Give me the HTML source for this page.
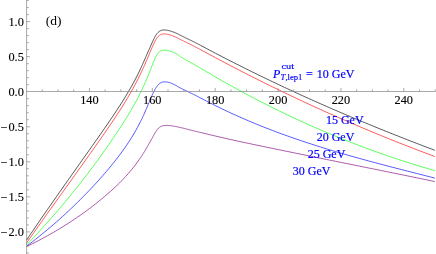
<!DOCTYPE html>
<html><head><meta charset="utf-8"><title>plot</title>
<style>
html,body{margin:0;padding:0;background:#fff;}
body{width:436px;height:254px;overflow:hidden;}
svg{display:block;}
text{font-family:"Liberation Serif",serif;}
.tk{font-size:12.3px;fill:#000;stroke:#000;stroke-width:0.12px;}
.lb{font-size:12px;fill:#0000ff;stroke:#0000ff;stroke-width:0.2px;}
.sm{font-size:8.6px;fill:#0000ff;stroke:#0000ff;stroke-width:0.15px;}
</style></head><body>
<svg width="436" height="254" viewBox="0 0 436 254">
<rect width="436" height="254" fill="#fff"/>

<g fill="none" stroke-width="0.66" stroke-linejoin="round">
<path stroke="#000000" d="M26.5,240.13 L28.0,237.94 L29.5,235.74 L31.0,233.52 L32.5,231.30 L34.0,229.08 L35.5,226.87 L37.0,224.68 L38.5,222.49 L40.0,220.30 L41.5,218.12 L43.0,215.95 L44.5,213.77 L46.0,211.60 L47.5,209.45 L49.0,207.30 L50.5,205.16 L52.0,203.01 L53.5,200.87 L55.0,198.72 L56.5,196.58 L58.0,194.44 L59.5,192.30 L61.0,190.17 L62.5,188.03 L64.0,185.90 L65.5,183.77 L67.0,181.64 L68.5,179.51 L70.0,177.38 L71.5,175.26 L73.0,173.13 L74.5,171.01 L76.0,168.88 L77.5,166.76 L79.0,164.64 L80.5,162.52 L82.0,160.39 L83.5,158.27 L85.0,156.15 L86.5,154.03 L88.0,151.91 L89.5,149.78 L91.0,147.66 L92.5,145.53 L94.0,143.40 L95.5,141.27 L97.0,139.13 L98.5,137.00 L100.0,134.85 L101.5,132.70 L103.0,130.55 L104.5,128.39 L106.0,126.22 L107.5,124.04 L109.0,121.86 L110.5,119.67 L112.0,117.45 L113.5,115.22 L115.0,112.97 L116.5,110.70 L118.0,108.41 L119.5,106.10 L121.0,103.76 L122.5,101.39 L124.0,98.98 L125.5,96.54 L127.0,94.05 L128.5,91.52 L130.0,88.94 L131.5,86.30 L133.0,83.60 L134.5,80.83 L136.0,77.98 L137.5,75.05 L139.0,72.02 L140.0,69.94 L140.5,68.87 L141.0,67.80 L141.5,66.71 L142.0,65.60 L142.5,64.49 L143.0,63.36 L143.5,62.22 L144.0,61.08 L144.5,59.93 L145.0,58.78 L145.5,57.62 L146.0,56.47 L146.5,55.32 L147.0,54.19 L147.5,53.06 L148.0,51.93 L148.5,50.81 L149.0,49.69 L149.5,48.56 L150.0,47.43 L150.5,46.29 L151.0,45.15 L151.5,44.02 L152.0,42.89 L152.5,41.78 L153.0,40.69 L153.5,39.64 L154.0,38.62 L154.5,37.64 L155.0,36.72 L155.5,35.85 L156.0,35.04 L156.5,34.30 L157.0,33.63 L157.5,33.02 L158.0,32.48 L158.5,32.01 L159.0,31.60 L159.5,31.24 L160.0,30.94 L160.5,30.69 L161.0,30.48 L161.5,30.31 L162.0,30.18 L162.5,30.09 L163.0,30.02 L163.5,29.97 L164.0,29.95 L164.5,29.96 L165.0,29.98 L165.5,30.02 L166.0,30.07 L166.5,30.14 L167.0,30.22 L167.5,30.32 L168.0,30.42 L168.5,30.54 L169.0,30.66 L169.5,30.79 L170.0,30.92 L170.5,31.07 L171.0,31.22 L171.5,31.37 L172.0,31.53 L172.5,31.70 L173.0,31.88 L173.5,32.06 L174.0,32.25 L174.5,32.45 L175.0,32.65 L175.5,32.86 L176.0,33.07 L176.5,33.29 L177.0,33.52 L177.5,33.76 L178.0,34.01 L178.5,34.27 L179.0,34.54 L179.5,34.82 L180.0,35.08 L180.5,35.34 L181.0,35.59 L181.5,35.84 L182.0,36.08 L182.5,36.32 L183.0,36.56 L183.5,36.81 L184.0,37.05 L184.5,37.29 L185.0,37.54 L185.5,37.79 L186.0,38.03 L186.5,38.28 L187.0,38.53 L187.5,38.77 L188.0,39.02 L188.5,39.26 L189.0,39.51 L189.5,39.75 L190.0,39.98 L190.5,40.22 L191.0,40.46 L191.5,40.70 L192.0,40.95 L192.5,41.20 L193.0,41.45 L193.5,41.71 L194.0,41.96 L194.5,42.22 L195.0,42.47 L195.5,42.73 L196.0,42.99 L196.5,43.24 L197.0,43.50 L197.5,43.76 L198.0,44.02 L198.5,44.27 L199.0,44.53 L199.5,44.79 L200.5,45.32 L202.0,46.12 L203.5,46.92 L205.0,47.72 L206.5,48.52 L208.0,49.32 L209.5,50.11 L211.0,50.90 L212.5,51.69 L214.0,52.48 L215.5,53.27 L217.0,54.05 L218.5,54.83 L220.0,55.61 L221.5,56.39 L223.0,57.17 L224.5,57.94 L226.0,58.72 L227.5,59.49 L229.0,60.25 L230.5,61.02 L232.0,61.78 L233.5,62.53 L235.0,63.29 L236.5,64.05 L238.0,64.80 L239.5,65.56 L241.0,66.31 L242.5,67.06 L244.0,67.81 L245.5,68.56 L247.0,69.31 L248.5,70.05 L250.0,70.80 L251.5,71.54 L253.0,72.27 L254.5,73.01 L256.0,73.75 L257.5,74.48 L259.0,75.21 L260.5,75.94 L262.0,76.67 L263.5,77.40 L265.0,78.12 L266.5,78.84 L268.0,79.56 L269.5,80.28 L271.0,81.00 L272.5,81.72 L274.0,82.43 L275.5,83.14 L277.0,83.85 L278.5,84.56 L280.0,85.27 L281.5,85.98 L283.0,86.68 L284.5,87.38 L286.0,88.08 L287.5,88.78 L289.0,89.48 L290.5,90.17 L292.0,90.87 L293.5,91.56 L295.0,92.25 L296.5,92.94 L298.0,93.63 L299.5,94.31 L301.0,95.00 L302.5,95.68 L304.0,96.36 L305.5,97.04 L307.0,97.72 L308.5,98.39 L310.0,99.07 L311.5,99.74 L313.0,100.41 L314.5,101.08 L316.0,101.75 L317.5,102.42 L319.0,103.08 L320.5,103.74 L322.0,104.41 L323.5,105.07 L325.0,105.73 L326.5,106.38 L328.0,107.04 L329.5,107.69 L331.0,108.35 L332.5,109.00 L334.0,109.65 L335.5,110.30 L337.0,110.94 L338.5,111.59 L340.0,112.23 L341.5,112.88 L343.0,113.52 L344.5,114.16 L346.0,114.80 L347.5,115.43 L349.0,116.07 L350.5,116.70 L352.0,117.34 L353.5,117.97 L355.0,118.60 L356.5,119.23 L358.0,119.85 L359.5,120.48 L361.0,121.10 L362.5,121.73 L364.0,122.35 L365.5,122.97 L367.0,123.59 L368.5,124.21 L370.0,124.82 L371.5,125.44 L373.0,126.05 L374.5,126.66 L376.0,127.28 L377.5,127.89 L379.0,128.49 L380.5,129.10 L382.0,129.71 L383.5,130.31 L385.0,130.92 L386.5,131.52 L388.0,132.12 L389.5,132.72 L391.0,133.32 L392.5,133.92 L394.0,134.51 L395.5,135.11 L397.0,135.70 L398.5,136.29 L400.0,136.88 L401.5,137.47 L403.0,138.06 L404.5,138.65 L406.0,139.24 L407.5,139.82 L409.0,140.41 L410.5,140.99 L412.0,141.57 L413.5,142.15 L415.0,142.73 L416.5,143.31 L418.0,143.89 L419.5,144.46 L421.0,145.04 L422.5,145.61 L424.0,146.18 L425.5,146.76 L427.0,147.33 L428.5,147.90 L430.0,148.47 L431.5,149.03 L433.0,149.60 L434.5,150.16 L434.9,150.32"/>
<path stroke="#ff0000" d="M26.5,243.11 L28.0,241.01 L29.5,238.88 L31.0,236.74 L32.5,234.58 L34.0,232.43 L35.5,230.27 L37.0,228.13 L38.5,226.01 L40.0,223.89 L41.5,221.77 L43.0,219.65 L44.5,217.54 L46.0,215.42 L47.5,213.31 L49.0,211.21 L50.5,209.11 L52.0,207.02 L53.5,204.93 L55.0,202.84 L56.5,200.75 L58.0,198.66 L59.5,196.56 L61.0,194.47 L62.5,192.38 L64.0,190.29 L65.5,188.19 L67.0,186.10 L68.5,184.00 L70.0,181.91 L71.5,179.81 L73.0,177.72 L74.5,175.62 L76.0,173.52 L77.5,171.42 L79.0,169.32 L80.5,167.22 L82.0,165.11 L83.5,163.01 L85.0,160.90 L86.5,158.79 L88.0,156.68 L89.5,154.57 L91.0,152.45 L92.5,150.33 L94.0,148.21 L95.5,146.08 L97.0,143.95 L98.5,141.82 L100.0,139.67 L101.5,137.53 L103.0,135.37 L104.5,133.21 L106.0,131.04 L107.5,128.86 L109.0,126.66 L110.5,124.45 L112.0,122.23 L113.5,120.00 L115.0,117.76 L116.5,115.49 L118.0,113.20 L119.5,110.89 L121.0,108.55 L122.5,106.19 L124.0,103.79 L125.5,101.35 L127.0,98.87 L128.5,96.35 L130.0,93.78 L131.5,91.16 L133.0,88.47 L134.5,85.71 L136.0,82.89 L137.5,79.98 L139.0,76.99 L140.0,74.95 L140.5,73.91 L141.0,72.87 L141.5,71.81 L142.0,70.74 L142.5,69.67 L143.0,68.58 L143.5,67.49 L144.0,66.38 L144.5,65.26 L145.0,64.13 L145.5,62.99 L146.0,61.84 L146.5,60.69 L147.0,59.52 L147.5,58.34 L148.0,57.15 L148.5,55.96 L149.0,54.77 L149.5,53.56 L150.0,52.36 L150.5,51.16 L151.0,49.96 L151.5,48.77 L152.0,47.60 L152.5,46.45 L153.0,45.32 L153.5,44.23 L154.0,43.17 L154.5,42.16 L155.0,41.20 L155.5,40.29 L156.0,39.45 L156.5,38.67 L157.0,37.95 L157.5,37.31 L158.0,36.73 L158.5,36.22 L159.0,35.77 L159.5,35.38 L160.0,35.05 L160.5,34.77 L161.0,34.54 L161.5,34.35 L162.0,34.20 L162.5,34.08 L163.0,34.00 L163.5,33.95 L164.0,33.93 L164.5,33.93 L165.0,33.95 L165.5,33.99 L166.0,34.05 L166.5,34.13 L167.0,34.22 L167.5,34.32 L168.0,34.44 L168.5,34.56 L169.0,34.70 L169.5,34.84 L170.0,34.99 L170.5,35.14 L171.0,35.30 L171.5,35.47 L172.0,35.64 L172.5,35.82 L173.0,36.00 L173.5,36.19 L174.0,36.39 L174.5,36.59 L175.0,36.80 L175.5,37.01 L176.0,37.23 L176.5,37.45 L177.0,37.68 L177.5,37.92 L178.0,38.18 L178.5,38.44 L179.0,38.71 L179.5,38.98 L180.0,39.25 L180.5,39.51 L181.0,39.76 L181.5,40.01 L182.0,40.26 L182.5,40.51 L183.0,40.75 L183.5,41.00 L184.0,41.25 L184.5,41.50 L185.0,41.75 L185.5,42.00 L186.0,42.25 L186.5,42.50 L187.0,42.75 L187.5,43.00 L188.0,43.25 L188.5,43.50 L189.0,43.74 L189.5,43.98 L190.0,44.21 L190.5,44.44 L191.0,44.68 L191.5,44.92 L192.0,45.17 L192.5,45.43 L193.0,45.68 L193.5,45.94 L194.0,46.20 L194.5,46.46 L195.0,46.72 L195.5,46.99 L196.0,47.25 L196.5,47.51 L197.0,47.77 L197.5,48.03 L198.0,48.30 L198.5,48.56 L199.0,48.82 L199.5,49.09 L200.5,49.62 L202.0,50.44 L203.5,51.26 L205.0,52.07 L206.5,52.88 L208.0,53.69 L209.5,54.50 L211.0,55.31 L212.5,56.11 L214.0,56.92 L215.5,57.72 L217.0,58.52 L218.5,59.31 L220.0,60.11 L221.5,60.90 L223.0,61.70 L224.5,62.49 L226.0,63.28 L227.5,64.06 L229.0,64.85 L230.5,65.63 L232.0,66.41 L233.5,67.21 L235.0,67.99 L236.5,68.77 L238.0,69.54 L239.5,70.32 L241.0,71.09 L242.5,71.86 L244.0,72.62 L245.5,73.39 L247.0,74.15 L248.5,74.92 L250.0,75.68 L251.5,76.44 L253.0,77.19 L254.5,77.95 L256.0,78.70 L257.5,79.45 L259.0,80.20 L260.5,80.95 L262.0,81.70 L263.5,82.44 L265.0,83.19 L266.5,83.93 L268.0,84.67 L269.5,85.41 L271.0,86.14 L272.5,86.88 L274.0,87.61 L275.5,88.34 L277.0,89.07 L278.5,89.80 L280.0,90.53 L281.5,91.25 L283.0,91.97 L284.5,92.69 L286.0,93.41 L287.5,94.13 L289.0,94.85 L290.5,95.56 L292.0,96.27 L293.5,96.98 L295.0,97.69 L296.5,98.40 L298.0,99.11 L299.5,99.81 L301.0,100.51 L302.5,101.21 L304.0,101.91 L305.5,102.61 L307.0,103.30 L308.5,104.00 L310.0,104.69 L311.5,105.38 L313.0,106.07 L314.5,106.76 L316.0,107.44 L317.5,108.13 L319.0,108.81 L320.5,109.49 L322.0,110.17 L323.5,110.84 L325.0,111.52 L326.5,112.19 L328.0,112.86 L329.5,113.54 L331.0,114.20 L332.5,114.87 L334.0,115.54 L335.5,116.20 L337.0,116.86 L338.5,117.52 L340.0,118.18 L341.5,118.84 L343.0,119.49 L344.5,120.15 L346.0,120.80 L347.5,121.45 L349.0,122.10 L350.5,122.75 L352.0,123.39 L353.5,124.04 L355.0,124.68 L356.5,125.32 L358.0,125.96 L359.5,126.59 L361.0,127.23 L362.5,127.86 L364.0,128.50 L365.5,129.13 L367.0,129.76 L368.5,130.38 L370.0,131.01 L371.5,131.63 L373.0,132.26 L374.5,132.88 L376.0,133.50 L377.5,134.12 L379.0,134.73 L380.5,135.35 L382.0,135.96 L383.5,136.57 L385.0,137.18 L386.5,137.79 L388.0,138.40 L389.5,139.00 L391.0,139.60 L392.5,140.21 L394.0,140.81 L395.5,141.40 L397.0,142.00 L398.5,142.60 L400.0,143.19 L401.5,143.78 L403.0,144.37 L404.5,144.96 L406.0,145.55 L407.5,146.13 L409.0,146.72 L410.5,147.30 L412.0,147.88 L413.5,148.46 L415.0,149.04 L416.5,149.62 L418.0,150.19 L419.5,150.76 L421.0,151.34 L422.5,151.91 L424.0,152.47 L425.5,153.04 L427.0,153.61 L428.5,154.17 L430.0,154.73 L431.5,155.29 L433.0,155.85 L434.5,156.41 L434.9,156.56"/>
<path stroke="#00ff00" d="M26.5,244.96 L28.0,243.46 L29.5,241.92 L31.0,240.34 L32.5,238.74 L34.0,237.12 L35.5,235.48 L37.0,233.84 L38.5,232.20 L40.0,230.56 L41.5,228.93 L43.0,227.28 L44.5,225.63 L46.0,223.96 L47.5,222.28 L49.0,220.60 L50.5,218.90 L52.0,217.20 L53.5,215.49 L55.0,213.77 L56.5,212.05 L58.0,210.32 L59.5,208.57 L61.0,206.82 L62.5,205.05 L64.0,203.28 L65.5,201.49 L67.0,199.68 L68.5,197.87 L70.0,196.04 L71.5,194.20 L73.0,192.35 L74.5,190.49 L76.0,188.61 L77.5,186.73 L79.0,184.83 L80.5,182.92 L82.0,181.00 L83.5,179.06 L85.0,177.11 L86.5,175.15 L88.0,173.18 L89.5,171.20 L91.0,169.21 L92.5,167.20 L94.0,165.18 L95.5,163.15 L97.0,161.10 L98.5,159.05 L100.0,156.98 L101.5,154.89 L103.0,152.80 L104.5,150.69 L106.0,148.57 L107.5,146.43 L109.0,144.27 L110.5,142.10 L112.0,139.91 L113.5,137.71 L115.0,135.50 L116.5,133.26 L118.0,131.00 L119.5,128.73 L121.0,126.42 L122.5,124.10 L124.0,121.74 L125.5,119.35 L127.0,116.93 L128.5,114.47 L130.0,111.96 L131.5,109.41 L133.0,106.80 L134.5,104.13 L136.0,101.38 L137.5,98.56 L139.0,95.65 L140.0,93.66 L140.5,92.64 L141.0,91.61 L141.5,90.57 L142.0,89.52 L142.5,88.45 L143.0,87.38 L143.5,86.29 L144.0,85.18 L144.5,84.07 L145.0,82.95 L145.5,81.81 L146.0,80.67 L146.5,79.51 L147.0,78.33 L147.5,77.14 L148.0,75.93 L148.5,74.71 L149.0,73.46 L149.5,72.20 L150.0,70.93 L150.5,69.64 L151.0,68.34 L151.5,67.04 L152.0,65.74 L152.5,64.44 L153.0,63.16 L153.5,61.90 L154.0,60.68 L154.5,59.50 L155.0,58.37 L155.5,57.30 L156.0,56.30 L156.5,55.38 L157.0,54.55 L157.5,53.80 L158.0,53.13 L158.5,52.55 L159.0,52.05 L159.5,51.63 L160.0,51.28 L160.5,50.99 L161.0,50.76 L161.5,50.57 L162.0,50.43 L162.5,50.32 L163.0,50.25 L163.5,50.20 L164.0,50.16 L164.5,50.15 L165.0,50.16 L165.5,50.18 L166.0,50.21 L166.5,50.26 L167.0,50.33 L167.5,50.41 L168.0,50.50 L168.5,50.61 L169.0,50.73 L169.5,50.86 L170.0,51.00 L170.5,51.16 L171.0,51.32 L171.5,51.50 L172.0,51.69 L172.5,51.89 L173.0,52.10 L173.5,52.31 L174.0,52.54 L174.5,52.78 L175.0,53.02 L175.5,53.27 L176.0,53.54 L176.5,53.81 L177.0,54.11 L177.5,54.44 L178.0,54.80 L178.5,55.19 L179.0,55.60 L179.5,56.01 L180.0,56.39 L180.5,56.74 L181.0,57.07 L181.5,57.38 L182.0,57.68 L182.5,57.97 L183.0,58.26 L183.5,58.55 L184.0,58.84 L184.5,59.13 L185.0,59.42 L185.5,59.70 L186.0,59.99 L186.5,60.28 L187.0,60.57 L187.5,60.86 L188.0,61.14 L188.5,61.41 L189.0,61.67 L189.5,61.91 L190.0,62.14 L190.5,62.37 L191.0,62.61 L191.5,62.86 L192.0,63.13 L192.5,63.42 L193.0,63.70 L193.5,64.00 L194.0,64.29 L194.5,64.59 L195.0,64.88 L195.5,65.18 L196.0,65.47 L196.5,65.77 L197.0,66.07 L197.5,66.36 L198.0,66.66 L198.5,66.95 L199.0,67.25 L199.5,67.55 L200.5,68.14 L202.0,69.04 L203.5,69.94 L205.0,70.83 L206.5,71.72 L208.0,72.61 L209.5,73.49 L211.0,74.37 L212.5,75.25 L214.0,76.12 L215.5,76.99 L217.0,77.86 L218.5,78.72 L220.0,79.58 L221.5,80.44 L223.0,81.29 L224.5,82.14 L226.0,82.99 L227.5,83.83 L229.0,84.67 L230.5,85.51 L232.0,86.35 L233.5,87.19 L235.0,88.02 L236.5,88.84 L238.0,89.66 L239.5,90.48 L241.0,91.29 L242.5,92.10 L244.0,92.91 L245.5,93.72 L247.0,94.52 L248.5,95.31 L250.0,96.11 L251.5,96.90 L253.0,97.69 L254.5,98.47 L256.0,99.25 L257.5,100.03 L259.0,100.81 L260.5,101.58 L262.0,102.35 L263.5,103.11 L265.0,103.88 L266.5,104.63 L268.0,105.39 L269.5,106.14 L271.0,106.89 L272.5,107.64 L274.0,108.38 L275.5,109.12 L277.0,109.86 L278.5,110.59 L280.0,111.32 L281.5,112.05 L283.0,112.78 L284.5,113.50 L286.0,114.22 L287.5,114.93 L289.0,115.64 L290.5,116.35 L292.0,117.06 L293.5,117.76 L295.0,118.46 L296.5,119.15 L298.0,119.85 L299.5,120.54 L301.0,121.22 L302.5,121.91 L304.0,122.59 L305.5,123.27 L307.0,123.94 L308.5,124.61 L310.0,125.28 L311.5,125.95 L313.0,126.61 L314.5,127.27 L316.0,127.93 L317.5,128.58 L319.0,129.23 L320.5,129.88 L322.0,130.52 L323.5,131.16 L325.0,131.80 L326.5,132.44 L328.0,133.07 L329.5,133.70 L331.0,134.33 L332.5,134.95 L334.0,135.57 L335.5,136.19 L337.0,136.80 L338.5,137.41 L340.0,138.02 L341.5,138.63 L343.0,139.23 L344.5,139.83 L346.0,140.43 L347.5,141.02 L349.0,141.61 L350.5,142.20 L352.0,142.78 L353.5,143.36 L355.0,143.94 L356.5,144.52 L358.0,145.09 L359.5,145.66 L361.0,146.23 L362.5,146.80 L364.0,147.36 L365.5,147.92 L367.0,148.47 L368.5,149.02 L370.0,149.57 L371.5,150.12 L373.0,150.67 L374.5,151.21 L376.0,151.75 L377.5,152.28 L379.0,152.82 L380.5,153.35 L382.0,153.87 L383.5,154.40 L385.0,154.92 L386.5,155.44 L388.0,155.95 L389.5,156.47 L391.0,156.98 L392.5,157.48 L394.0,157.99 L395.5,158.49 L397.0,158.99 L398.5,159.49 L400.0,159.98 L401.5,160.47 L403.0,160.96 L404.5,161.44 L406.0,161.93 L407.5,162.41 L409.0,162.88 L410.5,163.36 L412.0,163.83 L413.5,164.30 L415.0,164.76 L416.5,165.23 L418.0,165.69 L419.5,166.15 L421.0,166.60 L422.5,167.05 L424.0,167.50 L425.5,167.95 L427.0,168.39 L428.5,168.84 L430.0,169.27 L431.5,169.71 L433.0,170.14 L434.5,170.57 L434.9,170.69"/>
<path stroke="#0000ff" d="M26.5,246.14 L28.0,245.07 L29.5,243.97 L31.0,242.84 L32.5,241.70 L34.0,240.53 L35.5,239.35 L37.0,238.15 L38.5,236.94 L40.0,235.72 L41.5,234.50 L43.0,233.27 L44.5,232.05 L46.0,230.82 L47.5,229.57 L49.0,228.32 L50.5,227.06 L52.0,225.78 L53.5,224.50 L55.0,223.20 L56.5,221.89 L58.0,220.57 L59.5,219.24 L61.0,217.89 L62.5,216.54 L64.0,215.17 L65.5,213.79 L67.0,212.39 L68.5,210.99 L70.0,209.57 L71.5,208.14 L73.0,206.70 L74.5,205.25 L76.0,203.80 L77.5,202.33 L79.0,200.85 L80.5,199.36 L82.0,197.86 L83.5,196.34 L85.0,194.82 L86.5,193.27 L88.0,191.72 L89.5,190.15 L91.0,188.57 L92.5,186.97 L94.0,185.36 L95.5,183.73 L97.0,182.09 L98.5,180.43 L100.0,178.76 L101.5,177.07 L103.0,175.36 L104.5,173.64 L106.0,171.89 L107.5,170.13 L109.0,168.35 L110.5,166.54 L112.0,164.71 L113.5,162.86 L115.0,160.97 L116.5,159.06 L118.0,157.12 L119.5,155.15 L121.0,153.13 L122.5,151.08 L124.0,148.98 L125.5,146.84 L127.0,144.65 L128.5,142.40 L130.0,140.08 L131.5,137.70 L133.0,135.25 L134.5,132.71 L136.0,130.08 L137.5,127.36 L139.0,124.53 L140.0,122.59 L140.5,121.60 L141.0,120.59 L141.5,119.57 L142.0,118.54 L142.5,117.49 L143.0,116.42 L143.5,115.35 L144.0,114.25 L144.5,113.13 L145.0,112.00 L145.5,110.84 L146.0,109.67 L146.5,108.48 L147.0,107.29 L147.5,106.09 L148.0,104.90 L148.5,103.71 L149.0,102.52 L149.5,101.34 L150.0,100.16 L150.5,98.99 L151.0,97.83 L151.5,96.68 L152.0,95.55 L152.5,94.44 L153.0,93.35 L153.5,92.30 L154.0,91.28 L154.5,90.31 L155.0,89.38 L155.5,88.50 L156.0,87.67 L156.5,86.91 L157.0,86.20 L157.5,85.55 L158.0,84.97 L158.5,84.44 L159.0,83.97 L159.5,83.56 L160.0,83.20 L160.5,82.89 L161.0,82.63 L161.5,82.42 L162.0,82.24 L162.5,82.10 L163.0,82.00 L163.5,81.92 L164.0,81.87 L164.5,81.85 L165.0,81.84 L165.5,81.85 L166.0,81.88 L166.5,81.93 L167.0,82.00 L167.5,82.08 L168.0,82.18 L168.5,82.30 L169.0,82.44 L169.5,82.59 L170.0,82.75 L170.5,82.93 L171.0,83.12 L171.5,83.32 L172.0,83.53 L172.5,83.74 L173.0,83.97 L173.5,84.20 L174.0,84.44 L174.5,84.69 L175.0,84.95 L175.5,85.22 L176.0,85.50 L176.5,85.79 L177.0,86.09 L177.5,86.39 L178.0,86.69 L178.5,86.98 L179.0,87.26 L179.5,87.54 L180.0,87.80 L180.5,88.06 L181.0,88.32 L181.5,88.57 L182.0,88.82 L182.5,89.06 L183.0,89.30 L183.5,89.54 L184.0,89.77 L184.5,90.01 L185.0,90.25 L185.5,90.49 L186.0,90.74 L186.5,90.99 L187.0,91.24 L187.5,91.49 L188.0,91.74 L188.5,91.99 L189.0,92.24 L189.5,92.49 L190.0,92.73 L190.5,92.97 L191.0,93.21 L191.5,93.44 L192.0,93.67 L192.5,93.90 L193.0,94.14 L193.5,94.38 L194.0,94.63 L194.5,94.88 L195.0,95.13 L195.5,95.39 L196.0,95.64 L196.5,95.90 L197.0,96.16 L197.5,96.42 L198.0,96.67 L198.5,96.93 L199.0,97.19 L199.5,97.45 L200.5,97.97 L202.0,98.77 L203.5,99.56 L205.0,100.34 L206.5,101.12 L208.0,101.89 L209.5,102.66 L211.0,103.42 L212.5,104.18 L214.0,104.93 L215.5,105.67 L217.0,106.41 L218.5,107.15 L220.0,107.88 L221.5,108.60 L223.0,109.32 L224.5,110.04 L226.0,110.75 L227.5,111.45 L229.0,112.15 L230.5,112.85 L232.0,113.54 L233.5,114.22 L235.0,114.90 L236.5,115.57 L238.0,116.24 L239.5,116.91 L241.0,117.57 L242.5,118.23 L244.0,118.88 L245.5,119.53 L247.0,120.17 L248.5,120.81 L250.0,121.45 L251.5,122.08 L253.0,122.70 L254.5,123.32 L256.0,123.94 L257.5,124.55 L259.0,125.16 L260.5,125.77 L262.0,126.37 L263.5,126.97 L265.0,127.56 L266.5,128.15 L268.0,128.73 L269.5,129.31 L271.0,129.89 L272.5,130.46 L274.0,131.03 L275.5,131.60 L277.0,132.16 L278.5,132.72 L280.0,133.27 L281.5,133.82 L283.0,134.37 L284.5,134.91 L286.0,135.45 L287.5,135.99 L289.0,136.52 L290.5,137.05 L292.0,137.58 L293.5,138.10 L295.0,138.62 L296.5,139.14 L298.0,139.65 L299.5,140.16 L301.0,140.67 L302.5,141.17 L304.0,141.68 L305.5,142.17 L307.0,142.67 L308.5,143.16 L310.0,143.65 L311.5,144.14 L313.0,144.62 L314.5,145.10 L316.0,145.58 L317.5,146.06 L319.0,146.53 L320.5,147.00 L322.0,147.47 L323.5,147.93 L325.0,148.39 L326.5,148.86 L328.0,149.31 L329.5,149.77 L331.0,150.22 L332.5,150.67 L334.0,151.12 L335.5,151.57 L337.0,152.01 L338.5,152.45 L340.0,152.89 L341.5,153.33 L343.0,153.77 L344.5,154.20 L346.0,154.63 L347.5,155.06 L349.0,155.49 L350.5,155.92 L352.0,156.34 L353.5,156.76 L355.0,157.18 L356.5,157.60 L358.0,158.02 L359.5,158.44 L361.0,158.85 L362.5,159.26 L364.0,159.67 L365.5,160.08 L367.0,160.49 L368.5,160.90 L370.0,161.31 L371.5,161.71 L373.0,162.11 L374.5,162.51 L376.0,162.92 L377.5,163.31 L379.0,163.71 L380.5,164.11 L382.0,164.51 L383.5,164.90 L385.0,165.30 L386.5,165.69 L388.0,166.08 L389.5,166.47 L391.0,166.86 L392.5,167.25 L394.0,167.64 L395.5,168.03 L397.0,168.42 L398.5,168.81 L400.0,169.19 L401.5,169.58 L403.0,169.97 L404.5,170.35 L406.0,170.74 L407.5,171.12 L409.0,171.50 L410.5,171.89 L412.0,172.27 L413.5,172.65 L415.0,173.04 L416.5,173.42 L418.0,173.80 L419.5,174.18 L421.0,174.57 L422.5,174.95 L424.0,175.33 L425.5,175.71 L427.0,176.10 L428.5,176.48 L430.0,176.86 L431.5,177.25 L433.0,177.63 L434.5,178.01 L434.9,178.12"/>
<path stroke="#800080" d="M26.5,246.54 L28.0,245.84 L29.5,245.12 L31.0,244.39 L32.5,243.65 L34.0,242.90 L35.5,242.14 L37.0,241.36 L38.5,240.58 L40.0,239.79 L41.5,238.99 L43.0,238.18 L44.5,237.36 L46.0,236.53 L47.5,235.70 L49.0,234.85 L50.5,234.01 L52.0,233.15 L53.5,232.29 L55.0,231.41 L56.5,230.53 L58.0,229.64 L59.5,228.74 L61.0,227.83 L62.5,226.91 L64.0,225.98 L65.5,225.04 L67.0,224.09 L68.5,223.14 L70.0,222.17 L71.5,221.19 L73.0,220.20 L74.5,219.20 L76.0,218.19 L77.5,217.17 L79.0,216.13 L80.5,215.09 L82.0,214.03 L83.5,212.95 L85.0,211.87 L86.5,210.77 L88.0,209.65 L89.5,208.53 L91.0,207.39 L92.5,206.23 L94.0,205.06 L95.5,203.88 L97.0,202.68 L98.5,201.47 L100.0,200.24 L101.5,199.02 L103.0,197.79 L104.5,196.54 L106.0,195.28 L107.5,193.99 L109.0,192.69 L110.5,191.36 L112.0,190.01 L113.5,188.64 L115.0,187.25 L116.5,185.83 L118.0,184.38 L119.5,182.91 L121.0,181.40 L122.5,179.86 L124.0,178.29 L125.5,176.67 L127.0,175.02 L128.5,173.32 L130.0,171.57 L131.5,169.78 L133.0,167.93 L134.5,166.02 L136.0,164.05 L137.5,162.02 L139.0,159.91 L140.0,158.46 L140.5,157.72 L141.0,156.98 L141.5,156.22 L142.0,155.46 L142.5,154.68 L143.0,153.90 L143.5,153.10 L144.0,152.30 L144.5,151.49 L145.0,150.66 L145.5,149.83 L146.0,148.99 L146.5,148.14 L147.0,147.29 L147.5,146.43 L148.0,145.56 L148.5,144.69 L149.0,143.80 L149.5,142.92 L150.0,142.02 L150.5,141.12 L151.0,140.21 L151.5,139.29 L152.0,138.37 L152.5,137.45 L153.0,136.53 L153.5,135.61 L154.0,134.71 L154.5,133.83 L155.0,132.97 L155.5,132.14 L156.0,131.35 L156.5,130.61 L157.0,129.92 L157.5,129.28 L158.0,128.70 L158.5,128.18 L159.0,127.72 L159.5,127.32 L160.0,126.97 L160.5,126.68 L161.0,126.42 L161.5,126.21 L162.0,126.04 L162.5,125.89 L163.0,125.77 L163.5,125.67 L164.0,125.59 L164.5,125.53 L165.0,125.48 L165.5,125.44 L166.0,125.42 L166.5,125.40 L167.0,125.39 L167.5,125.40 L168.0,125.41 L168.5,125.44 L169.0,125.47 L169.5,125.51 L170.0,125.56 L170.5,125.62 L171.0,125.68 L171.5,125.75 L172.0,125.83 L172.5,125.91 L173.0,125.99 L173.5,126.08 L174.0,126.18 L174.5,126.28 L175.0,126.38 L175.5,126.48 L176.0,126.59 L176.5,126.70 L177.0,126.81 L177.5,126.92 L178.0,127.03 L178.5,127.14 L179.0,127.25 L179.5,127.36 L180.0,127.47 L180.5,127.57 L181.0,127.68 L181.5,127.79 L182.0,127.90 L182.5,128.01 L183.0,128.12 L183.5,128.24 L184.0,128.36 L184.5,128.48 L185.0,128.61 L185.5,128.75 L186.0,128.88 L186.5,129.02 L187.0,129.17 L187.5,129.31 L188.0,129.44 L188.5,129.57 L189.0,129.70 L189.5,129.83 L190.0,129.96 L190.5,130.09 L191.0,130.21 L191.5,130.33 L192.0,130.45 L192.5,130.57 L193.0,130.69 L193.5,130.81 L194.0,130.92 L194.5,131.04 L195.0,131.16 L195.5,131.28 L196.0,131.39 L196.5,131.51 L197.0,131.63 L197.5,131.75 L198.0,131.87 L198.5,131.99 L199.0,132.11 L199.5,132.23 L200.5,132.47 L202.0,132.83 L203.5,133.19 L205.0,133.55 L206.5,133.91 L208.0,134.27 L209.5,134.63 L211.0,134.99 L212.5,135.34 L214.0,135.69 L215.5,136.05 L217.0,136.40 L218.5,136.75 L220.0,137.09 L221.5,137.44 L223.0,137.79 L224.5,138.13 L226.0,138.48 L227.5,138.82 L229.0,139.16 L230.5,139.50 L232.0,139.84 L233.5,140.17 L235.0,140.50 L236.5,140.83 L238.0,141.16 L239.5,141.48 L241.0,141.81 L242.5,142.13 L244.0,142.45 L245.5,142.76 L247.0,143.08 L248.5,143.39 L250.0,143.71 L251.5,144.02 L253.0,144.33 L254.5,144.65 L256.0,144.96 L257.5,145.27 L259.0,145.58 L260.5,145.90 L262.0,146.21 L263.5,146.53 L265.0,146.84 L266.5,147.15 L268.0,147.46 L269.5,147.78 L271.0,148.09 L272.5,148.40 L274.0,148.71 L275.5,149.02 L277.0,149.33 L278.5,149.64 L280.0,149.95 L281.5,150.25 L283.0,150.56 L284.5,150.87 L286.0,151.18 L287.5,151.48 L289.0,151.79 L290.5,152.10 L292.0,152.40 L293.5,152.71 L295.0,153.01 L296.5,153.32 L298.0,153.62 L299.5,153.93 L301.0,154.24 L302.5,154.55 L304.0,154.86 L305.5,155.17 L307.0,155.48 L308.5,155.78 L310.0,156.09 L311.5,156.40 L313.0,156.71 L314.5,157.02 L316.0,157.32 L317.5,157.63 L319.0,157.94 L320.5,158.24 L322.0,158.55 L323.5,158.85 L325.0,159.16 L326.5,159.46 L328.0,159.77 L329.5,160.07 L331.0,160.38 L332.5,160.68 L334.0,160.99 L335.5,161.29 L337.0,161.60 L338.5,161.90 L340.0,162.20 L341.5,162.51 L343.0,162.81 L344.5,163.11 L346.0,163.42 L347.5,163.72 L349.0,164.02 L350.5,164.33 L352.0,164.63 L353.5,164.93 L355.0,165.24 L356.5,165.54 L358.0,165.84 L359.5,166.14 L361.0,166.45 L362.5,166.75 L364.0,167.05 L365.5,167.36 L367.0,167.66 L368.5,167.96 L370.0,168.27 L371.5,168.57 L373.0,168.87 L374.5,169.18 L376.0,169.48 L377.5,169.78 L379.0,170.09 L380.5,170.39 L382.0,170.70 L383.5,171.00 L385.0,171.31 L386.5,171.61 L388.0,171.92 L389.5,172.22 L391.0,172.53 L392.5,172.83 L394.0,173.14 L395.5,173.44 L397.0,173.75 L398.5,174.06 L400.0,174.36 L401.5,174.67 L403.0,174.98 L404.5,175.29 L406.0,175.59 L407.5,175.90 L409.0,176.21 L410.5,176.52 L412.0,176.83 L413.5,177.14 L415.0,177.45 L416.5,177.76 L418.0,178.07 L419.5,178.39 L421.0,178.70 L422.5,179.01 L424.0,179.32 L425.5,179.64 L427.0,179.95 L428.5,180.26 L430.0,180.58 L431.5,180.89 L433.0,181.21 L434.5,181.53 L434.9,181.61"/>
</g>
<g stroke="#858585" stroke-width="0.7" fill="none">
<line x1="26.6" y1="0" x2="26.6" y2="254"/>
<line x1="26.6" y1="91.5" x2="435.5" y2="91.5"/>
<path d="M42.26,91.5 v-2.2 M57.98,91.5 v-2.2 M73.70,91.5 v-2.2 M89.42,91.5 v-3.5 M105.14,91.5 v-2.2 M120.86,91.5 v-2.2 M136.58,91.5 v-2.2 M152.30,91.5 v-3.5 M168.02,91.5 v-2.2 M183.74,91.5 v-2.2 M199.46,91.5 v-2.2 M215.18,91.5 v-3.5 M230.90,91.5 v-2.2 M246.62,91.5 v-2.2 M262.34,91.5 v-2.2 M278.06,91.5 v-3.5 M293.78,91.5 v-2.2 M309.50,91.5 v-2.2 M325.22,91.5 v-2.2 M340.94,91.5 v-3.5 M356.66,91.5 v-2.2 M372.38,91.5 v-2.2 M388.10,91.5 v-2.2 M403.82,91.5 v-3.5 M419.54,91.5 v-2.2 M435.26,91.5 v-2.2 M26.6,252.93 h2.2 M26.6,245.92 h2.2 M26.6,238.91 h2.2 M26.6,231.90 h3.4 M26.6,224.89 h2.2 M26.6,217.88 h2.2 M26.6,210.87 h2.2 M26.6,203.86 h2.2 M26.6,196.85 h3.4 M26.6,189.84 h2.2 M26.6,182.83 h2.2 M26.6,175.82 h2.2 M26.6,168.81 h2.2 M26.6,161.80 h3.4 M26.6,154.79 h2.2 M26.6,147.78 h2.2 M26.6,140.77 h2.2 M26.6,133.76 h2.2 M26.6,126.75 h3.4 M26.6,119.74 h2.2 M26.6,112.73 h2.2 M26.6,105.72 h2.2 M26.6,98.71 h2.2 M26.6,84.69 h2.2 M26.6,77.68 h2.2 M26.6,70.67 h2.2 M26.6,63.66 h2.2 M26.6,56.65 h3.4 M26.6,49.64 h2.2 M26.6,42.63 h2.2 M26.6,35.62 h2.2 M26.6,28.61 h2.2 M26.6,21.60 h3.4 M26.6,14.59 h2.2 M26.6,7.58 h2.2 M26.6,0.57 h2.2"/>
</g>
<text class="tk" x="89.4" y="104.3" text-anchor="middle">140</text>
<text class="tk" x="152.3" y="104.3" text-anchor="middle">160</text>
<text class="tk" x="215.2" y="104.3" text-anchor="middle">180</text>
<text class="tk" x="278.1" y="104.3" text-anchor="middle">200</text>
<text class="tk" x="340.9" y="104.3" text-anchor="middle">220</text>
<text class="tk" x="403.8" y="104.3" text-anchor="middle">240</text>
<text class="tk" x="23.8" y="25.6" text-anchor="end">1.0</text>
<text class="tk" x="23.8" y="60.7" text-anchor="end">0.5</text>
<text class="tk" x="23.8" y="95.7" text-anchor="end">0.0</text>
<text class="tk" y="130.8"><tspan x="0.7" dy="1.1" textLength="6.9" lengthAdjust="spacingAndGlyphs">−</tspan><tspan x="23.8" dy="-1.1" text-anchor="end">0.5</tspan></text>
<text class="tk" y="165.8"><tspan x="0.7" dy="1.1" textLength="6.9" lengthAdjust="spacingAndGlyphs">−</tspan><tspan x="23.8" dy="-1.1" text-anchor="end">1.0</tspan></text>
<text class="tk" y="200.8"><tspan x="0.7" dy="1.1" textLength="6.9" lengthAdjust="spacingAndGlyphs">−</tspan><tspan x="23.8" dy="-1.1" text-anchor="end">1.5</tspan></text>
<text class="tk" y="235.9"><tspan x="0.7" dy="1.1" textLength="6.9" lengthAdjust="spacingAndGlyphs">−</tspan><tspan x="23.8" dy="-1.1" text-anchor="end">2.0</tspan></text>
<text x="45.7" y="25.3" font-size="13.5px" fill="#000">(d)</text>
<text class="lb"><tspan x="273" y="78.2" font-style="italic">P</tspan><tspan class="sm" x="281.5" y="68.9" textLength="12.7" lengthAdjust="spacingAndGlyphs">cut</tspan><tspan class="sm" x="280.6" y="80.2" font-style="italic">T</tspan><tspan class="sm">,lep1</tspan><tspan x="306.1" y="78.2">=</tspan><tspan x="316.8" y="78.2">10 GeV</tspan></text>
<text class="lb" x="325.9" y="124">15 GeV</text>
<text class="lb" x="316.7" y="141.3">20 GeV</text>
<text class="lb" x="307.7" y="158.1">25 GeV</text>
<text class="lb" x="292.8" y="174.8">30 GeV</text>
</svg></body></html>
